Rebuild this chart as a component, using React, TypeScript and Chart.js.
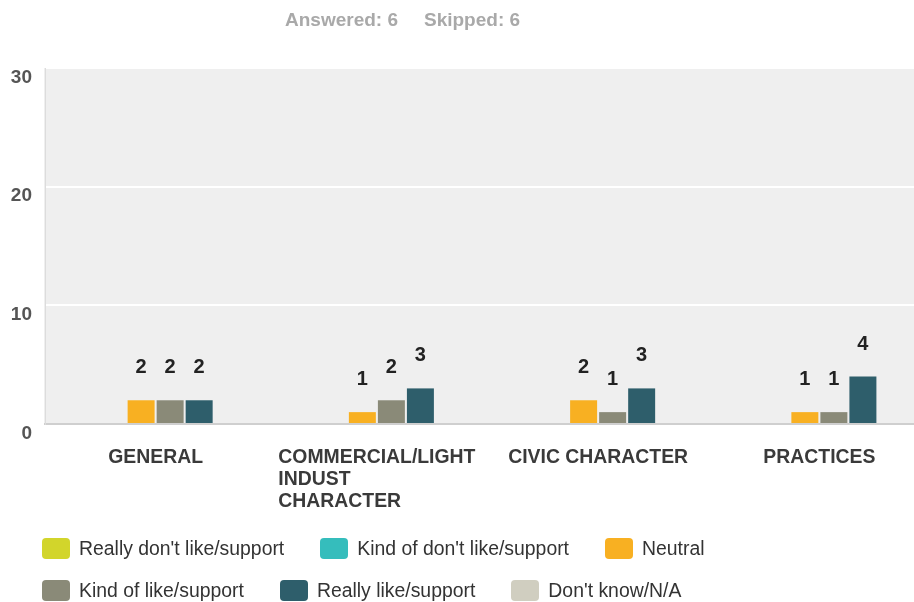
import React, { useEffect, useRef } from 'react';
import { Chart, registerables } from 'chart.js';

Chart.register(...registerables);

// ---- data ----
const categories: string[][] = [
  ['GENERAL'],
  ['COMMERCIAL/LIGHT', 'INDUST', 'CHARACTER'],
  ['CIVIC CHARACTER'],
  ['PRACTICES'],
];
const seriesNames = [
  "Really don't like/support",
  "Kind of don't like/support",
  'Neutral',
  'Kind of like/support',
  'Really like/support',
  "Don't know/N/A",
];
const reallyDontLike = [0, 0, 0, 0];
const kindOfDontLike = [0, 0, 0, 0];
const neutral = [2, 1, 2, 1];
const kindOfLike = [2, 2, 1, 1];
const reallyLike = [2, 3, 3, 4];
const dontKnow = [0, 0, 0, 0];
const seriesColors = ['#d2d52b', '#35bdbc', '#f8b022', '#8a8a78', '#2e5e6b', '#d0cec0'];
const yTicks = [0, 10, 20, 30];
const answered = 6;
const skipped = 6;

const FONT = '"Liberation Sans", Arial, Helvetica, sans-serif';

const bgPlugin = {
  id: 'plotBg',
  beforeDraw(chart: any) {
    const { ctx, chartArea } = chart;
    ctx.save();
    ctx.fillStyle = '#efefef';
    ctx.fillRect(chartArea.left - 1, chartArea.top, chartArea.right - chartArea.left + 1, chartArea.bottom - chartArea.top);
    ctx.restore();
  },
};

const valueLabelPlugin = {
  id: 'valueLabels',
  afterDatasetsDraw(chart: any) {
    const { ctx } = chart;
    ctx.save();
    ctx.font = `bold 20px ${FONT}`;
    ctx.fillStyle = '#222222';
    ctx.textAlign = 'center';
    ctx.textBaseline = 'alphabetic';
    chart.data.datasets.forEach((ds: any, di: number) => {
      const meta = chart.getDatasetMeta(di);
      meta.data.forEach((bar: any, i: number) => {
        const v = ds.data[i];
        if (v == null || v === 0) return;
        ctx.fillText(String(v), bar.x, bar.y - 27);
      });
    });
    ctx.restore();
  },
};

const xLabelPlugin = {
  id: 'xLabels',
  afterDraw(chart: any) {
    const { ctx, chartArea } = chart;
    const xs = chart.scales.x;
    ctx.save();
    ctx.font = `bold 19.4px ${FONT}`;
    ctx.fillStyle = '#3a3a3a';
    ctx.textAlign = 'left';
    ctx.textBaseline = 'alphabetic';
    (chart.data.labels as string[][]).forEach((lines, i) => {
      const cx = xs.getPixelForValue(i);
      const w = Math.max(...lines.map((l) => ctx.measureText(l).width));
      lines.forEach((l, j) => {
        ctx.fillText(l, cx - w / 2, chartArea.bottom + 39 + j * 22);
      });
    });
    ctx.restore();
  },
};

export default function App() {
  const canvasRef = useRef<HTMLCanvasElement>(null);

  useEffect(() => {
    if (!canvasRef.current) return;
    const seriesData = [reallyDontLike, kindOfDontLike, neutral, kindOfLike, reallyLike, dontKnow];
    const chart = new Chart(canvasRef.current, {
      type: 'bar',
      data: {
        labels: categories as any,
        datasets: seriesNames.map((name, i) => ({
          label: name,
          data: seriesData[i],
          backgroundColor: seriesColors[i],
          borderWidth: 0,
          categoryPercentage: 0.787,
          barPercentage: 0.93,
        })),
      },
      options: {
        responsive: false,
        animation: false,
        events: [],
        layout: { padding: { top: 68, left: 11, right: 2, bottom: 178 } },
        plugins: {
          legend: { display: false },
          tooltip: { enabled: false },
          title: { display: false },
        },
        scales: {
          x: {
            grid: { display: false, drawTicks: false },
            ticks: { display: false },
            border: { display: true, color: '#cfcfcf', width: 2 },
          },
          y: {
            min: 0,
            max: 30,
            afterBuildTicks: (s: any) => {
              s.ticks = yTicks.map((v) => ({ value: v }));
            },
            afterFit: (s: any) => {
              s.width = 34;
            },
            ticks: {
              align: 'start',
              padding: 13,
              color: '#555555',
              font: { family: FONT, size: 19, weight: 'bold' },
            },
            grid: {
              drawTicks: false,
              lineWidth: 2,
              color: (c: any) => (c.tick && c.tick.value === 0 ? 'rgba(0,0,0,0)' : '#ffffff'),
            },
            border: { display: true, color: '#dcdcdc', width: 1 },
          },
        },
      },
      plugins: [bgPlugin, valueLabelPlugin, xLabelPlugin],
    } as any);
    return () => chart.destroy();
  }, []);

  const rows = [seriesNames.slice(0, 3), seriesNames.slice(3, 6)];

  return (
    <div
      style={{
        position: 'absolute',
        left: 0,
        top: 0,
        width: 914,
        height: 602,
        overflow: 'hidden',
        background: '#ffffff',
        fontFamily: FONT,
      }}
    >
      <canvas
        ref={canvasRef}
        width={932}
        height={602}
        style={{ position: 'absolute', left: 0, top: 0, width: 932, height: 602 }}
      />
      <div
        style={{
          position: 'absolute',
          left: 285,
          top: 9,
          fontSize: 19,
          fontWeight: 'bold',
          color: '#a9a9a9',
          lineHeight: '22px',
          whiteSpace: 'nowrap',
        }}
      >
        <span>Answered: {answered}</span>
        <span style={{ marginLeft: 26 }}>Skipped: {skipped}</span>
      </div>
      {rows.map((row, ri) => (
        <div
          key={ri}
          style={{
            position: 'absolute',
            left: 42,
            top: 538 + ri * 42,
            display: 'flex',
            alignItems: 'center',
            whiteSpace: 'nowrap',
          }}
        >
          {row.map((name) => {
            const idx = seriesNames.indexOf(name);
            return (
              <div key={name} style={{ display: 'flex', alignItems: 'center', marginRight: 36 }}>
                <span
                  style={{
                    display: 'inline-block',
                    width: 28,
                    height: 21,
                    borderRadius: 4,
                    background: seriesColors[idx],
                    marginRight: 9,
                  }}
                />
                <span style={{ fontSize: 19.4, color: '#333333', lineHeight: '21px' }}>{name}</span>
              </div>
            );
          })}
        </div>
      ))}
    </div>
  );
}
